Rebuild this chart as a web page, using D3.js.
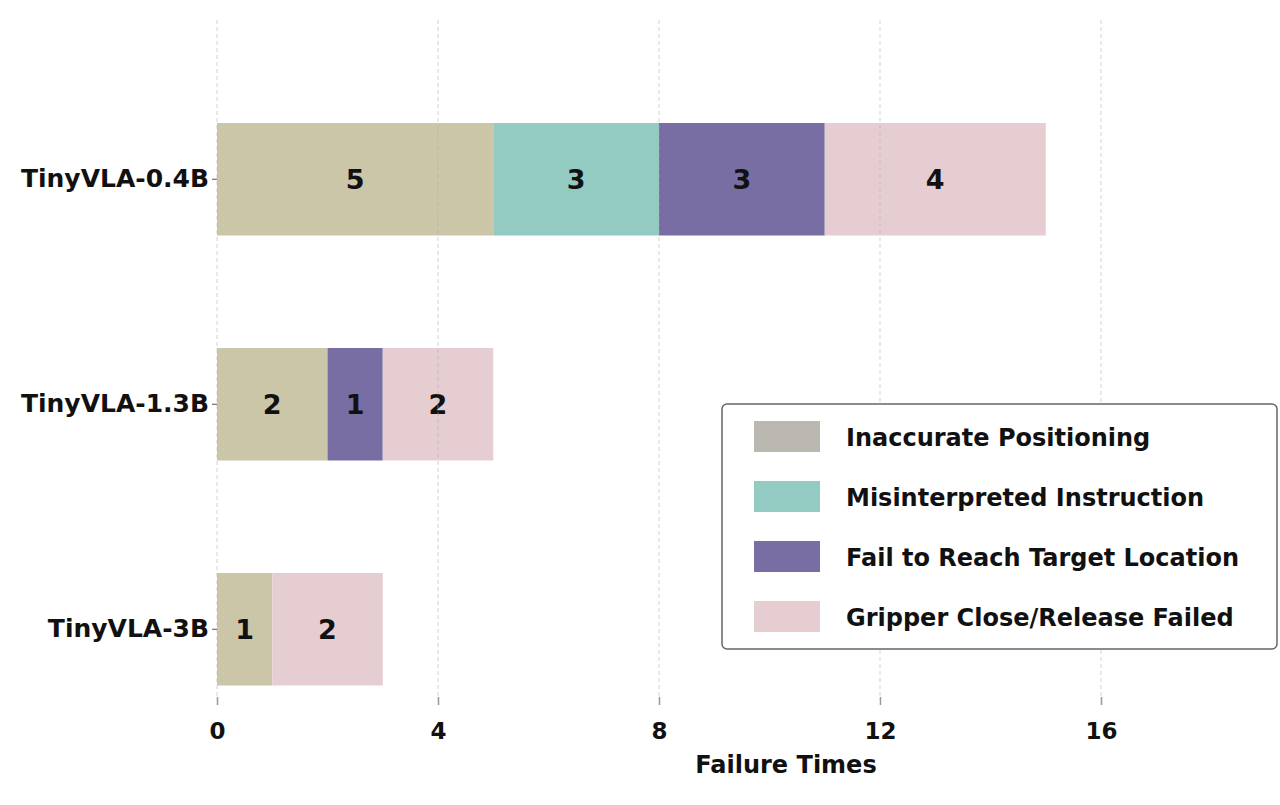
<!DOCTYPE html>
<html>
<head>
<meta charset="utf-8">
<script src="https://cdn.jsdelivr.net/npm/d3@7"></script>
<style>
  body { margin: 0; background: #fff; }
  svg text { font-family: "DejaVu Sans", sans-serif; font-weight: bold; }
</style>
</head>
<body>
<svg width="1280" height="805"></svg>
<script>
var svg = d3.select("svg");

// data
var models = ["TinyVLA-0.4B", "TinyVLA-1.3B", "TinyVLA-3B"];
var failureTypes = ["Inaccurate Positioning", "Misinterpreted Instruction",
                    "Fail to Reach Target Location", "Gripper Close/Release Failed"];
var inaccurate = [5, 2, 1];
var misinterpreted = [3, 0, 0];
var failReach = [3, 1, 0];
var gripper = [4, 2, 2];
var xTicks = [0, 4, 8, 12, 16];

var barColors = ["#ccc6a9", "#93cbc3", "#786ea3", "#e6cdd1"];
var legendColors = ["#bab8b0", "#93cbc3", "#786ea3", "#e6cdd1"];

var rows = models.map(function(m, i) {
  return { model: m, v: [inaccurate[i], misinterpreted[i], failReach[i], gripper[i]] };
});

var x = d3.scaleLinear().domain([0, 18]).range([217, 217 + 18 * 55.25]);
var y = d3.scaleBand().domain(models).range([66.75, 741.75])
    .paddingInner(0.5).paddingOuter(0.25);

// stacked segments
var gBars = svg.append("g");
rows.forEach(function(r) {
  var acc = 0;
  r.v.forEach(function(val, k) {
    if (val > 0) {
      gBars.append("rect")
        .attr("x", x(acc))
        .attr("y", y(r.model))
        .attr("width", x(acc + val) - x(acc))
        .attr("height", y.bandwidth())
        .attr("fill", barColors[k]);
      gBars.append("text")
        .attr("x", (x(acc) + x(acc + val)) / 2)
        .attr("y", y(r.model) + y.bandwidth() / 2)
        .attr("dy", "0.36em")
        .attr("text-anchor", "middle")
        .attr("font-size", 27)
        .attr("fill", "#111")
        .text(val);
    }
    acc += val;
  });
});

// dashed grid, drawn over the bars like the original
svg.append("g").selectAll("line")
  .data(xTicks).enter()
  .append("line")
  .attr("x1", function(d) { return x(d); })
  .attr("x2", function(d) { return x(d); })
  .attr("y1", 20).attr("y2", 700)
  .attr("stroke", "#b0b0b0")
  .attr("stroke-opacity", 0.55)
  .attr("stroke-dasharray", "4,3");

// x axis (no domain line)
var xAxis = svg.append("g")
  .attr("transform", "translate(0,697)")
  .call(d3.axisBottom(x).tickValues(xTicks).tickSize(8).tickPadding(18));
xAxis.select(".domain").remove();
xAxis.selectAll(".tick line").attr("stroke", "#999").attr("stroke-width", 1.5);
xAxis.selectAll("text")
  .attr("font-size", 23).attr("font-family", null)
  .attr("fill", "#111");

svg.append("text")
  .attr("x", 786).attr("y", 773)
  .attr("text-anchor", "middle")
  .attr("font-size", 24).attr("fill", "#111")
  .text("Failure Times");

// y axis
var yAxis = svg.append("g")
  .attr("transform", "translate(217,0)")
  .call(d3.axisLeft(y).tickSize(5).tickPadding(3));
yAxis.select(".domain").remove();
yAxis.selectAll(".tick line").attr("stroke", "#555");
yAxis.selectAll("text")
  .attr("font-size", 25).attr("font-family", null)
  .attr("fill", "#111");

// legend
var legend = svg.append("g");
legend.append("rect")
  .attr("x", 722).attr("y", 404)
  .attr("width", 555).attr("height", 245)
  .attr("rx", 5)
  .attr("fill", "#fff")
  .attr("stroke", "#666").attr("stroke-width", 1.5);
failureTypes.forEach(function(name, k) {
  var cy = 437 + k * 60;
  legend.append("rect")
    .attr("x", 754).attr("y", cy - 16)
    .attr("width", 66).attr("height", 31)
    .attr("fill", legendColors[k]);
  legend.append("text")
    .attr("x", 846).attr("y", cy)
    .attr("dy", "0.36em")
    .attr("font-size", 24).attr("fill", "#111")
    .text(name);
});
</script>
</body>
</html>
